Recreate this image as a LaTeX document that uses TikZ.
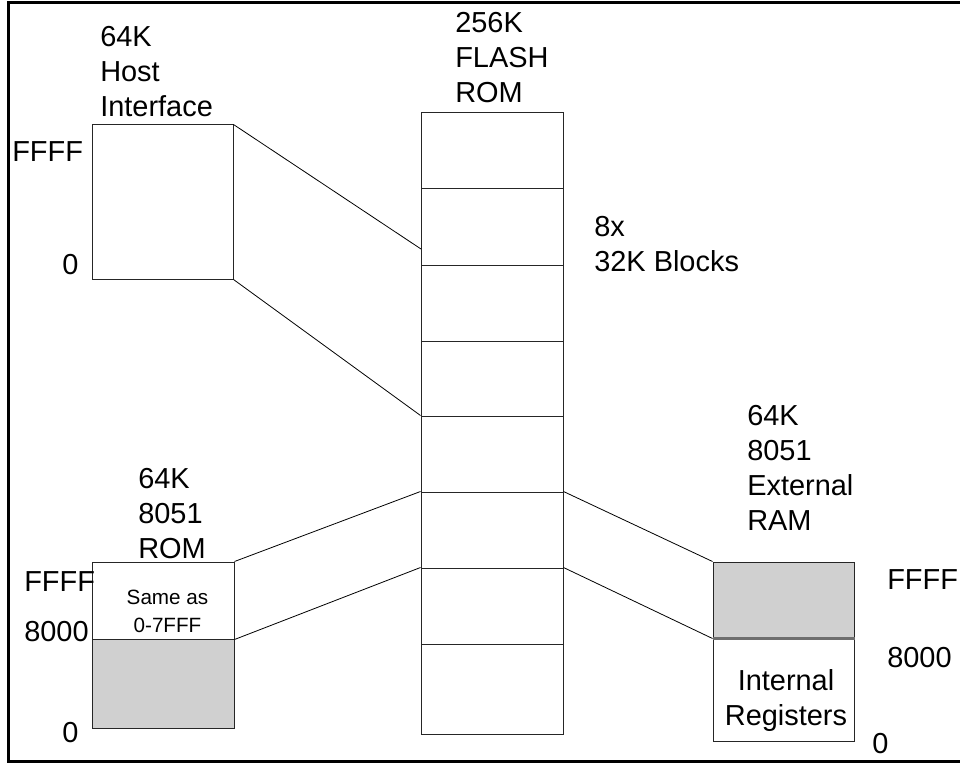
\documentclass[tikz,border=0pt]{standalone}
\usepackage{fontspec}
\setmainfont{Liberation Sans}
\usetikzlibrary{fit}
\definecolor{shade}{HTML}{D0D0D0}
\definecolor{divgray}{HTML}{6E6E6E}
\begin{document}
\begin{tikzpicture}[x=0.75pt,y=-0.75pt,
  memblock/.style={draw=black!85, line width=0.75pt, inner sep=0pt},
  shaded/.style={memblock, fill=shade},
  link/.style={draw=black, line width=0.6pt},
  big/.style={font=\fontsize{21.7}{26.25}\selectfont, inner sep=0pt, align=left},
  small/.style={font=\fontsize{15.5}{20.8}\selectfont, inner sep=0pt, align=center},
  addr/.style={font=\fontsize{21.7}{26.25}\selectfont, inner sep=0pt, anchor=base west}]
\useasboundingbox (0,0) rectangle (960,763);
% frame (right side lies beyond the picture)
\draw[line width=2.25pt] (980,3) -- (8,3) -- (8,761) -- (980,761);

% host interface
\node[memblock, fit={(92,125) (233,279)}] (host) {};
\node[big, anchor=north west] (hostlbl) at (100,26.3) {64K\\Host\\Interface};
\node[addr] (hostF) at (12,162) {FFFF};
\node[addr] (host0) at (62,274) {0};

% flash blocks
\node[memblock, fit={(421,113) (563,189)}] (f1) {};
\node[memblock, fit={(421,189) (563,265)}] (f2) {};
\node[memblock, fit={(421,265) (563,341)}] (f3) {};
\node[memblock, fit={(421,341) (563,416)}] (f4) {};
\node[memblock, fit={(421,416) (563,492)}] (f5) {};
\node[memblock, fit={(421,492) (563,568)}] (f6) {};
\node[memblock, fit={(421,568) (563,644)}] (f7) {};
\node[memblock, fit={(421,644) (563,734)}] (f8) {};
\node[big, anchor=north west] (flashlbl) at (455,12.3) {256K\\FLASH\\ROM};
\node[big, anchor=north west] (blkslbl) at (594,216.3) {8x\\32K Blocks};

% 8051 ROM
\node[memblock, fit={(92,562) (234,639)}] (romhi) {};
\node[shaded, fit={(92,639) (234,728)}] (romlo) {};
\node[small, anchor=north] (same) at (167.5,590.2) {Same as\\0-7FFF};
\node[big, anchor=north west] (romlbl) at (138,468.3) {64K\\8051\\ROM};
\node[addr] (romF) at (24,591) {FFFF};
\node[addr] (rom8) at (24,641) {8000};
\node[addr] (rom0) at (62,742) {0};

% 8051 external RAM
\node[shaded, fit={(713,562) (854,638)}] (ramhi) {};
\node[memblock, fit={(713,638) (854,741)}] (ramlo) {};
\draw[divgray, line width=2.2pt] (ramhi.south west) -- (ramhi.south east);
\node[big, align=center, anchor=north] (ramreg) at (786,669.3) {Internal\\Registers};
\node[big, anchor=north west] (ramlbl) at (747,405.3) {64K\\8051\\External\\RAM};
\node[addr] (ramF) at (887,589) {FFFF};
\node[addr] (ram8) at (887,667) {8000};
\node[addr] (ram0) at (872,753) {0};

% connectors
\coordinate (hostend) at (421,249);
\draw[link] (host.north east) -- (hostend);
\draw[link] (host.south east) -- (f5.north west);
\draw[link] (romhi.north east) -- (f6.north west);
\draw[link] (romhi.south east) -- (f7.north west);
\draw[link] (f6.north east) -- (ramhi.north west);
\draw[link] (f7.north east) -- (ramhi.south west);
\end{tikzpicture}
\end{document}
